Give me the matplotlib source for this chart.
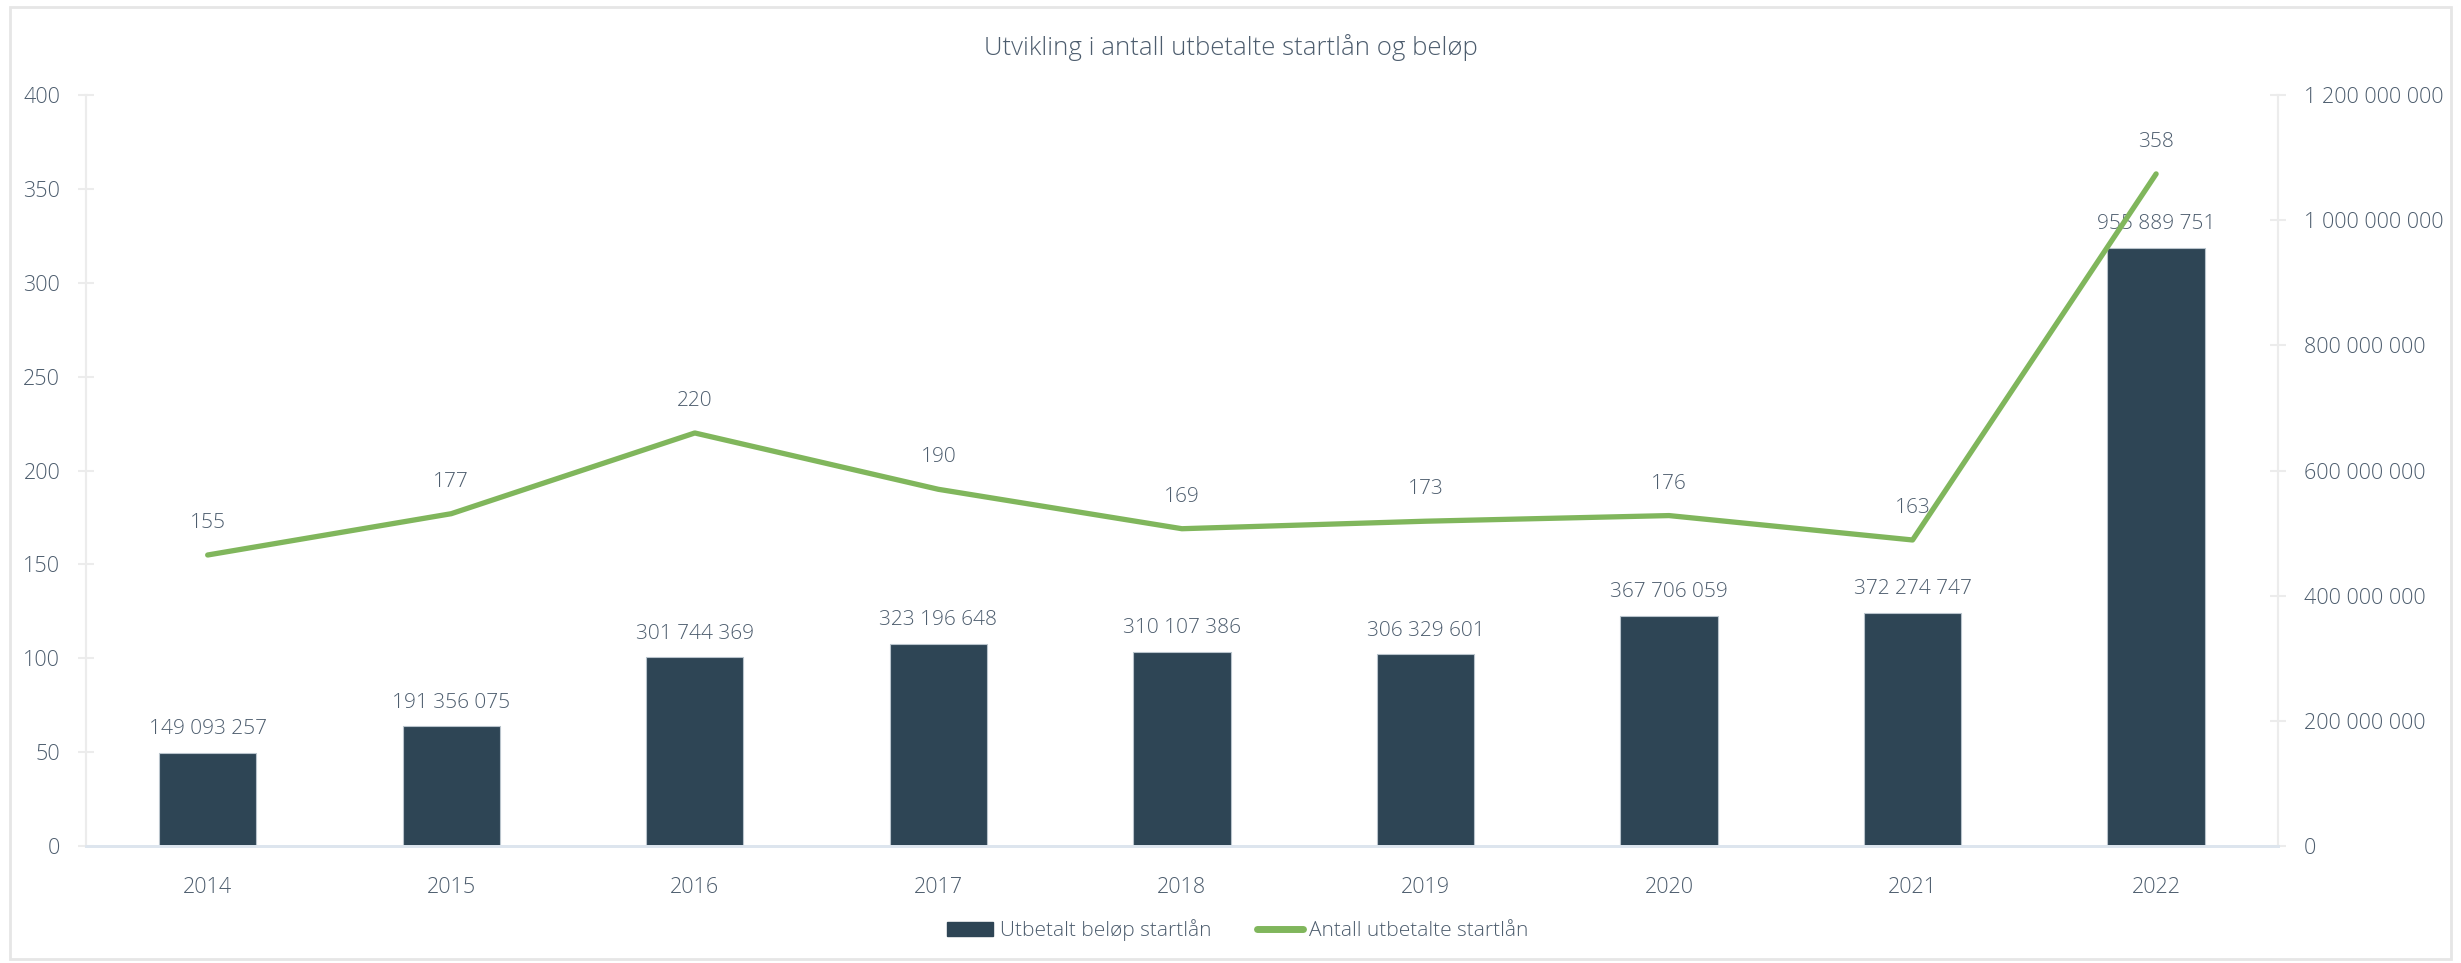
import matplotlib
matplotlib.use("Agg")
import matplotlib.pyplot as plt
from matplotlib.ticker import FuncFormatter
from matplotlib.patches import Rectangle

plt.rcParams['font.family'] = ['Open Sans', 'DejaVu Sans']
plt.rcParams['font.weight'] = 'light'

years = ['2014', '2015', '2016', '2017', '2018', '2019', '2020', '2021', '2022']
belop = [149093257, 191356075, 301744369, 323196648, 310107386,
         306329601, 367706059, 372274747, 955889751]
antall = [155, 177, 220, 190, 169, 173, 176, 163, 358]

bar_color = '#2e4555'
line_color = '#80b65c'
text_color = '#4d5d6e'
grid_grey = '#ececec'


def spaced(v, pos=None):
    return f"{int(round(v)):,}".replace(',', ' ')


fig = plt.figure(figsize=(24.61, 9.63), dpi=100)
ax = fig.add_axes([0.0349, 0.1215, 0.8907, 0.7798])
ax2 = ax.twinx()

x = list(range(len(years)))

# bars on the right axis (amount)
ax2.bar(x, belop, width=0.4, color=bar_color, edgecolor='#b9c4cc', linewidth=0.8, zorder=2)
for xi, v in zip(x, belop):
    ax2.annotate(spaced(v), (xi, v), xytext=(0, 17), textcoords='offset points',
                 ha='center', va='center', fontsize=15, color=text_color)

# line on the left axis (count)
ax.plot(x, antall, color=line_color, linewidth=3.8, solid_capstyle='round',
        solid_joinstyle='round', zorder=3)
for xi, v in zip(x, antall):
    ax.annotate(str(v), (xi, v), xytext=(0, 23), textcoords='offset points',
                ha='center', va='center', fontsize=15, color=text_color)

ax.set_zorder(ax2.get_zorder() + 1)
ax.patch.set_visible(False)

ax.set_xlim(-0.5, len(years) - 0.5)
ax.set_ylim(0, 400)
ax2.set_ylim(0, 1200000000)
ax.set_yticks(range(0, 401, 50))
ax2.set_yticks(range(0, 1200000001, 200000000))
ax2.yaxis.set_major_formatter(FuncFormatter(spaced))
ax.set_xticks(x)
ax.set_xticklabels(years)

for a in (ax, ax2):
    a.spines['top'].set_visible(False)
    a.spines['left'].set_color(grid_grey)
    a.spines['right'].set_color(grid_grey)
    a.spines['left'].set_linewidth(1.5)
    a.spines['right'].set_linewidth(1.5)
    a.spines['bottom'].set_color('#dde5ee')
    a.spines['bottom'].set_linewidth(2)
    a.tick_params(axis='y', colors=grid_grey, direction='inout', length=11, width=1.5,
                  labelcolor=text_color, labelsize=15.5, pad=13)
ax.tick_params(axis='x', length=0, labelcolor=text_color, labelsize=15.5, pad=22)

fig.text(0.5, 0.951, 'Utvikling i antall utbetalte startlån og beløp', fontsize=18.5,
         color=text_color, ha='center', va='center')

# legend
bar_handle = plt.Rectangle((0, 0), 1, 1, color=bar_color)
line_handle = plt.Line2D([0], [0], color=line_color, linewidth=5, solid_capstyle='round')
leg = fig.legend([bar_handle, line_handle],
                 ['Utbetalt beløp startlån', 'Antall utbetalte startlån'],
                 loc='center', bbox_to_anchor=(0.503, 0.034), ncol=2, frameon=False,
                 fontsize=15, handlelength=2.2, handletextpad=0.3, columnspacing=2.2)
for t in leg.get_texts():
    t.set_color(text_color)

# outer frame
fig.patches.append(Rectangle((0.004, 0.004), 0.992, 0.989, transform=fig.transFigure,
                             fill=False, edgecolor='#e6e6e6', linewidth=2))

fig.savefig('out.png', dpi=100, facecolor='white')
